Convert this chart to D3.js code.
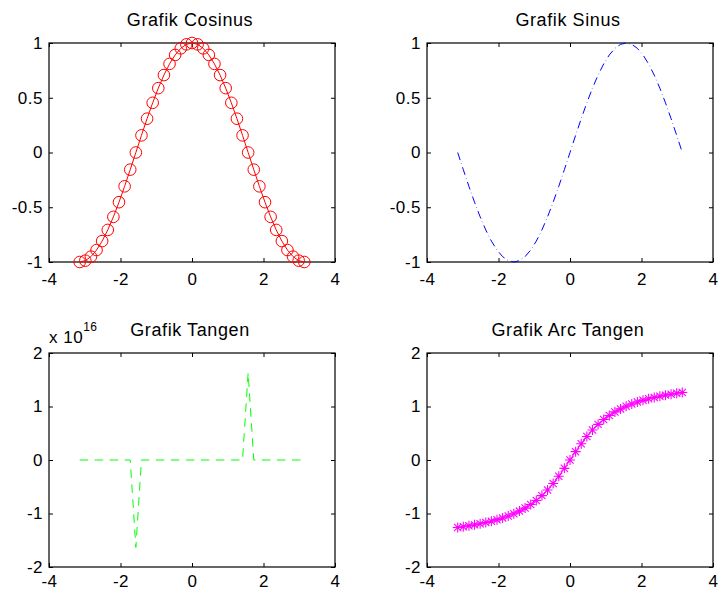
<!DOCTYPE html>
<html>
<head>
<meta charset="utf-8">
<script src="https://cdn.jsdelivr.net/npm/d3@7"></script>
<style>
  body { margin: 0; background: #fff; }
  svg { display: block; font-family: "Liberation Sans", Arial, sans-serif; }
  .tick text { font-size: 17px; letter-spacing: 0.5px; fill: #000; }
  .ttl { font-size: 18px; letter-spacing: 0.6px; fill: #000; }
</style>
</head>
<body>
<script>
// values (41 samples from -pi to pi)
var xVals = [-3.1416, -2.9845, -2.8274, -2.6704, -2.5133, -2.3562, -2.1991, -2.0420, -1.8850, -1.7279,
  -1.5708, -1.4137, -1.2566, -1.0996, -0.9425, -0.7854, -0.6283, -0.4712, -0.3142, -0.1571,
  0, 0.1571, 0.3142, 0.4712, 0.6283, 0.7854, 0.9425, 1.0996, 1.2566, 1.4137,
  1.5708, 1.7279, 1.8850, 2.0420, 2.1991, 2.3562, 2.5133, 2.6704, 2.8274, 2.9845, 3.1416];

var cosVals = [-1, -0.9877, -0.9511, -0.8910, -0.8090, -0.7071, -0.5878, -0.4540, -0.3090, -0.1564,
  0, 0.1564, 0.3090, 0.4540, 0.5878, 0.7071, 0.8090, 0.8910, 0.9511, 0.9877,
  1, 0.9877, 0.9511, 0.8910, 0.8090, 0.7071, 0.5878, 0.4540, 0.3090, 0.1564,
  0, -0.1564, -0.3090, -0.4540, -0.5878, -0.7071, -0.8090, -0.8910, -0.9511, -0.9877, -1];

var sinVals = [0, -0.1564, -0.3090, -0.4540, -0.5878, -0.7071, -0.8090, -0.8910, -0.9511, -0.9877,
  -1, -0.9877, -0.9511, -0.8910, -0.8090, -0.7071, -0.5878, -0.4540, -0.3090, -0.1564,
  0, 0.1564, 0.3090, 0.4540, 0.5878, 0.7071, 0.8090, 0.8910, 0.9511, 0.9877,
  1, 0.9877, 0.9511, 0.8910, 0.8090, 0.7071, 0.5878, 0.4540, 0.3090, 0.1564, 0];

var tanVals = [0, 0.1584, 0.3249, 0.5095, 0.7265, 1, 1.3764, 1.9626, 3.0777, 6.3138,
  -1.633e16, -6.3138, -3.0777, -1.9626, -1.3764, -1, -0.7265, -0.5095, -0.3249, -0.1584,
  0, 0.1584, 0.3249, 0.5095, 0.7265, 1, 1.3764, 1.9626, 3.0777, 6.3138,
  1.633e16, -6.3138, -3.0777, -1.9626, -1.3764, -1, -0.7265, -0.5095, -0.3249, -0.1584, 0];

var atanVals = [-1.2626, -1.2475, -1.2309, -1.2125, -1.1921, -1.1694, -1.1440, -1.1154, -1.0831, -1.0462,
  -1.0039, -0.9552, -0.8987, -0.8330, -0.7558, -0.6658, -0.5610, -0.4405, -0.3044, -0.1558,
  0, 0.1558, 0.3044, 0.4405, 0.5610, 0.6658, 0.7558, 0.8330, 0.8987, 0.9552,
  1.0039, 1.0462, 1.0831, 1.1154, 1.1440, 1.1694, 1.1921, 1.2125, 1.2309, 1.2475, 1.2626];

var xTicks = [-4, -2, 0, 2, 4];
var trigTicks = [-1, -0.5, 0, 0.5, 1];
var tanTicks = [-2e16, -1e16, 0, 1e16, 2e16];
var atanTicks = [-2, -1, 0, 1, 2];
var titles = ["Grafik Cosinus", "Grafik Sinus", "Grafik Tangen", "Grafik Arc Tangen"];

var width = 720, height = 592;
var svg = d3.select("body").append("svg").attr("width", width).attr("height", height);

function panel(o) {
  var x = d3.scaleLinear().domain([-4, 4]).range([o.left, o.left + 286]);
  var y = d3.scaleLinear().domain(o.ydom).range([o.bottom, o.top]);
  var g = svg.append("g");

  // inward ticks on all four sides, like a boxed matlab axes
  g.append("g").attr("transform", "translate(0," + o.bottom + ")")
    .call(d3.axisBottom(x).tickValues(xTicks).tickSizeInner(-4).tickSizeOuter(0).tickPadding(o.xpad).tickFormat(function(d) { return String(d); }));
  g.append("g").attr("transform", "translate(0," + o.top + ")")
    .call(d3.axisTop(x).tickValues(xTicks).tickSizeInner(-4).tickSizeOuter(0).tickFormat(""));
  g.append("g").attr("transform", "translate(" + o.left + ",0)")
    .call(d3.axisLeft(y).tickValues(o.yticks).tickSizeInner(-4).tickSizeOuter(0).tickPadding(6).tickFormat(o.yfmt));
  g.append("g").attr("transform", "translate(" + (o.left + 286) + ",0)")
    .call(d3.axisRight(y).tickValues(o.yticks).tickSizeInner(-4).tickSizeOuter(0).tickFormat(""));
  g.selectAll(".domain").remove();
  g.selectAll(".tick line").attr("stroke", "#000");

  g.append("rect").attr("x", o.left).attr("y", o.top)
    .attr("width", 286).attr("height", o.bottom - o.top)
    .attr("fill", "none").attr("stroke", "#000").attr("stroke-width", 1.2);

  g.append("text").attr("class", "ttl").attr("x", o.left + 141).attr("y", o.top - 17)
    .attr("text-anchor", "middle").text(o.title);

  var line = d3.line().x(function(d) { return x(d[0]); }).y(function(d) { return y(d[1]); });
  var pts = xVals.map(function(v, i) { return [v, o.vals[i]]; });

  g.append("path").datum(pts).attr("d", line)
    .attr("fill", "none").attr("stroke", o.color).attr("stroke-width", 1)
    .attr("stroke-dasharray", o.dash || null);

  if (o.marker === "circle") {
    g.selectAll(".mk").data(pts).enter().append("circle")
      .attr("cx", function(d) { return x(d[0]); }).attr("cy", function(d) { return y(d[1]); })
      .attr("r", 5.8).attr("fill", "none").attr("stroke", o.color).attr("stroke-width", 1);
  }
  if (o.marker === "star") {
    g.selectAll(".mk").data(pts).enter().append("path")
      .attr("transform", function(d) { return "translate(" + x(d[0]) + "," + y(d[1]) + ")"; })
      .attr("d", "M-5,0H5M0,-5V5M-3.6,-3.6L3.6,3.6M-3.6,3.6L3.6,-3.6")
      .attr("fill", "none").attr("stroke", o.color).attr("stroke-width", 1.1);
  }
  return g;
}

var fmt = function(d) { return String(d); };

panel({ left: 49, top: 43, bottom: 262, xpad: 11, ydom: [-1, 1], yticks: trigTicks, yfmt: fmt,
  title: titles[0], vals: cosVals, color: "#ff0000", marker: "circle" });
panel({ left: 427, top: 43, bottom: 262, xpad: 11, ydom: [-1, 1], yticks: trigTicks, yfmt: fmt,
  title: titles[1], vals: sinVals, color: "#0000ff", dash: "8,3.5,0.5,3.5" });
var gt = panel({ left: 49, top: 353, bottom: 567, xpad: 8, ydom: [-2e16, 2e16], yticks: tanTicks,
  yfmt: function(d) { return String(d / 1e16); },
  title: titles[2], vals: tanVals, color: "#00ff00", dash: "8.5,6.5" });
panel({ left: 427, top: 353, bottom: 567, xpad: 8, ydom: [-2, 2], yticks: atanTicks, yfmt: fmt,
  title: titles[3], vals: atanVals, color: "#ff00ff", marker: "star" });

// exponent label of the tangent axes
var ex = gt.append("text").attr("x", 49).attr("y", 343).attr("font-size", 17).attr("letter-spacing", 0.5);
ex.append("tspan").text("x 10");
ex.append("tspan").attr("font-size", 12).attr("dy", -12).text("16");
</script>
</body>
</html>
